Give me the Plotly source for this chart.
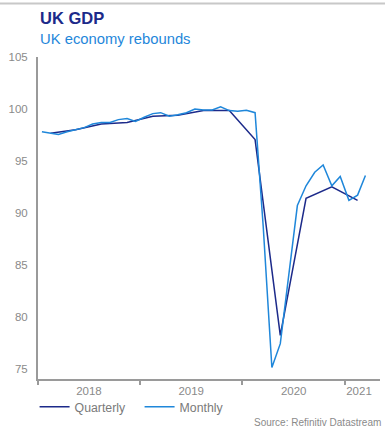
import plotly.graph_objects as go

# ---- data ----
monthly_dates = [f"{y}-{m:02d}-15" for y in (2018, 2019, 2020, 2021) for m in range(1, 13)][:39]
monthly_values = [
    97.8, 97.65, 97.55, 97.8, 98.0, 98.2, 98.55, 98.7, 98.7, 98.97, 99.07, 98.8,
    99.2, 99.55, 99.64, 99.3, 99.45, 99.64, 100.0, 99.9, 99.9, 100.2, 99.84, 99.77,
    99.88, 99.64, 88.7, 75.1, 77.4, 84.2, 90.7, 92.6, 93.9, 94.6, 92.6, 93.5,
    91.2, 91.7, 93.6,
]
quarterly_dates = [f"{y}-{m:02d}-15" for y in (2018, 2019, 2020, 2021) for m in (2, 5, 8, 11)][:13]
quarterly_values = [97.65, 98.0, 98.55, 98.7, 99.3, 99.4, 99.85, 99.85, 97.05, 78.2, 91.4, 92.5, 91.2]

year_labels = ["2018", "2019", "2020", "2021"]
year_label_pos = ["2018-07-02", "2019-07-02", "2020-07-02", "2021-02-20"]
year_ticks = ["2018-01-01", "2019-01-01", "2020-01-01", "2021-01-01"]

NAVY = "#1c2a8a"
BLUE = "#1f87da"
GREY = "#8a8a8a"
FONT = "Liberation Sans, Arial, sans-serif"

fig = go.Figure()
fig.add_trace(go.Scatter(x=quarterly_dates, y=quarterly_values, mode="lines",
                         name="Quarterly", line=dict(color=NAVY, width=1.5)))
fig.add_trace(go.Scatter(x=monthly_dates, y=monthly_values, mode="lines",
                         name="Monthly", line=dict(color=BLUE, width=1.5)))

fig.update_layout(
    width=385, height=427,
    margin=dict(l=38, r=5, t=57, b=48),
    paper_bgcolor="white", plot_bgcolor="white",
    font=dict(family=FONT, color=GREY, size=11.5),
    showlegend=True,
    legend=dict(orientation="h", x=-0.01, xanchor="left", y=-0.086, yanchor="middle",
                font=dict(size=12.3, color="#7a7a7a"), entrywidth=60, entrywidthmode="pixels",
                bgcolor="rgba(0,0,0,0)"),
    xaxis=dict(range=["2018-01-01", "2021-05-06"], showline=True, linecolor="#9a9a9a", linewidth=2,
               showgrid=False, zeroline=False, tickmode="array", tickvals=year_label_pos,
               ticktext=year_labels, ticks="", tickfont=dict(size=11.5, color=GREY),
               minor=dict(tickmode="array", tickvals=year_ticks, ticks="outside", ticklen=4,
                          tickcolor="#9a9a9a", tickwidth=2, showgrid=False)),
    yaxis=dict(range=[74, 105], showline=True, linecolor="#9a9a9a", linewidth=2,
               showgrid=False, zeroline=False, tick0=75, dtick=5, ticks="",
               tickfont=dict(size=11.5, color=GREY), ticklabelstandoff=6),
)

fig.add_annotation(text="<b>UK GDP</b>", xref="paper", yref="paper", x=0, y=(379 - 18) / 322,
                   xanchor="left", yanchor="middle", showarrow=False,
                   font=dict(size=16.5, color=NAVY, family=FONT))
fig.add_annotation(text="UK economy rebounds", xref="paper", yref="paper", x=0, y=(379 - 39.5) / 322,
                   xanchor="left", yanchor="middle", showarrow=False,
                   font=dict(size=14.8, color=BLUE, family=FONT))
fig.add_annotation(text="Source: Refinitiv Datastream", xref="paper", yref="paper",
                   x=(383 - 38) / 342, y=(379 - 422) / 322, xanchor="right", yanchor="middle",
                   showarrow=False, font=dict(size=10, color=GREY, family=FONT))
fig.add_shape(type="line", xref="paper", yref="paper", x0=-38 / 342, x1=1.02,
              y0=(379 - 3.5) / 322, y1=(379 - 3.5) / 322, line=dict(color="#c8c8c8", width=2))

fig.write_html("out.html")
